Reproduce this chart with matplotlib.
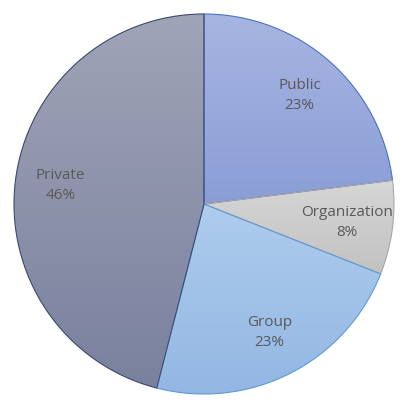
import matplotlib.pyplot as plt
import matplotlib.colors as mcolors
import numpy as np

# shares of each group, clockwise from 12 o'clock
names = ['Public', 'Organization', 'Group', 'Private']
shares = [23, 8, 23, 46]

# colours: top of slice, bottom of slice, edge
top_colors = ['#a7b5e1', '#d6d6d6', '#aecced', '#a0a4b7']
bottom_colors = ['#8a9dd6', '#c2c2c2', '#93b7e3', '#7a819e']
edge_colors = ['#4a72c0', '#a8a8a8', '#5e9ad4', '#3c4a6a']


def plot_pie():
    fig = plt.figure(figsize=(4.06, 4.04), dpi=100)
    ax = fig.add_axes([0, 0, 1, 1])

    wedges, _ = ax.pie(shares, startangle=90, counterclock=False, radius=1.0,
                       wedgeprops=dict(linewidth=0.8))

    for i, w in enumerate(wedges):
        w.set_facecolor('none')
        w.set_edgecolor(edge_colors[i])
        w.set_zorder(3)
        box = w.get_path().get_extents()
        cmap = mcolors.LinearSegmentedColormap.from_list('g', [bottom_colors[i], top_colors[i]])
        grad = np.linspace(0, 1, 256).reshape(-1, 1)
        img = ax.imshow(grad, cmap=cmap, origin='lower', aspect='auto',
                        extent=(box.x0, box.x1, box.y0, box.y1), zorder=2,
                        interpolation='bicubic')
        img.set_clip_path(w)

        mid = np.deg2rad((w.theta1 + w.theta2) / 2)
        r = 0.76
        ax.text(r * np.cos(mid), r * np.sin(mid), '%s\n%d%%' % (names[i], shares[i]),
                ha='center', va='center', color='#595959', fontsize=11,
                family='Open Sans', linespacing=1.45, zorder=4)

    # pie centre at (204, 204) px, radius ~190 px
    scale = 190.0
    ax.set_xlim(-204 / scale, (406 - 204) / scale)
    ax.set_ylim(-(404 - 204) / scale, 204 / scale)
    ax.set_aspect('auto')
    ax.axis('off')
    fig.savefig('out.png', dpi=100)


plot_pie()
